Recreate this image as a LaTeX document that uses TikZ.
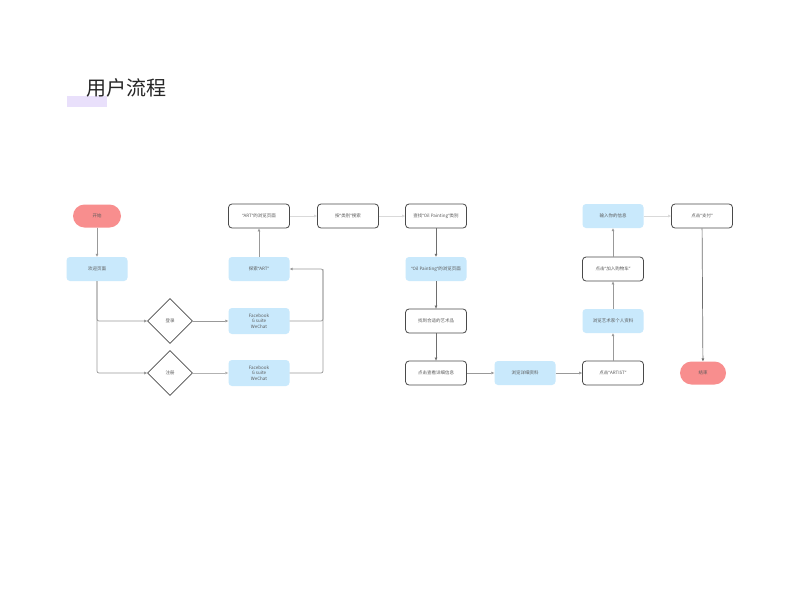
\documentclass[tikz,border=0pt]{standalone}
\usepackage{fontspec}
\newfontfamily\cjk{Noto Sans CJK SC}
\newfontfamily\lat{Noto Sans}
\newcommand{\myLq}{{\lat “}}
\newcommand{\myRq}{{\lat ”}}
\usetikzlibrary{shapes.geometric,arrows.meta,positioning}
\definecolor{boxblue}{HTML}{C9E9FC}
\definecolor{pill}{HTML}{F88E8E}
\definecolor{lav}{HTML}{E9E0FB}
\definecolor{edge}{HTML}{4A4A4A}
\definecolor{txt}{HTML}{5A5A5A}
\tikzset{
  base/.style={minimum width=61pt, minimum height=24pt, rounded corners=3.5pt, inner sep=1pt,
    font=\cjk\fontsize{4.5}{5.6}\selectfont, text=txt, align=center},
  wbox/.style={base, draw=edge, line width=0.8pt, fill=white},
  bbox/.style={base, fill=boxblue},
  pillbox/.style={base, minimum width=48pt, minimum height=23pt, rounded corners=11.5pt, fill=pill},
  dia/.style={diamond, draw=edge, line width=0.7pt, minimum width=45pt, minimum height=45pt, inner sep=0pt,
    font=\cjk\fontsize{4.5}{5.6}\selectfont, text=txt},
  arr/.style={-{Triangle[length=3pt,width=2.6pt]}, line width=0.7pt, rounded corners=2pt},
  dk/.style={arr, draw=edge!80},
  md/.style={arr, draw=black!40},
  lt/.style={arr, draw=black!15}
}
\begin{document}
\begin{tikzpicture}[x=1pt,y=-1pt]
\useasboundingbox (0,0) rectangle (800,600);
\fill[white] (0,0) rectangle (800,600);
% title
\fill[lav] (67,96) rectangle (107,107);
\node[font=\cjk\fontsize{20}{24}\selectfont, text=black!85, anchor=center] (title) at (126,88) {用户流程};
% nodes
\node[pillbox] (start) at (97,216) {开始};
\node[bbox] (welcome) at (97,269) {欢迎页面};
\node[dia] (login) at (170,321) {登录};
\node[dia] (reg) at (170,373) {注册};
\node[bbox, minimum height=26pt] (fb1) at (259,321) {Facebook\\G suite\\WeChat};
\node[bbox, minimum height=26pt] (fb2) at (259,373) {Facebook\\G suite\\WeChat};
\node[bbox] (explore) at (259,269) {探索\myLq ART\myRq};
\node[wbox] (artbrowse) at (259,216) {\myLq ART\myRq 的浏览页面};
\node[wbox] (cat) at (348,216) {按\myLq 类别\myRq 搜索};
\node[wbox] (findoil) at (436,216) {查找\myLq Oil Painting\myRq 类别};
\node[bbox] (oilbrowse) at (436,269) {\myLq Oil Painting\myRq 的浏览页面};
\node[wbox] (findart) at (436,321) {找到合适的艺术品};
\node[wbox] (details) at (436,373) {点击查看详细信息};
\node[bbox] (browsed) at (525,373) {浏览详细资料};
\node[wbox] (artist) at (613,373) {点击\myLq ARTIST\myRq};
\node[bbox] (profile) at (613,321) {浏览艺术家个人资料};
\node[wbox] (cart) at (613,269) {点击\myLq 加入购物车\myRq};
\node[bbox] (info) at (613,216) {输入你的信息};
\node[wbox] (pay) at (702,216) {点击\myLq 支付\myRq};
\node[pillbox, minimum width=46pt] (end) at (703,373) {结束};
\coordinate (j) at (323,269);
% connectors
\draw[md] (start) -- (welcome);
\draw[md] (welcome.south) |- (login.west);
\draw[md] (welcome.south) |- (reg.west);
\draw[md] (login) -- (fb1);
\draw[lt, draw=black!30] (reg) -- (fb2);
\draw[md, -] (fb1.east) -| (j);
\draw[md] (fb2.east) -| (j) -- (explore.east);
\draw[md] (explore) -- (artbrowse);
\draw[lt] (artbrowse) -- (cat);
\draw[lt] (cat) -- (findoil);
\draw[dk] (findoil) -- (oilbrowse);
\draw[dk] (oilbrowse) -- (findart);
\draw[dk] (findart) -- (details);
\draw[md] (details) -- (browsed);
\draw[md] (browsed) -- (artist);
\draw[md] (artist) -- (profile);
\draw[md] (profile) -- (cart);
\draw[md] (cart) -- (info);
\draw[lt] (info) -- (pay);
\draw[dk] (pay) -- (end);
\end{tikzpicture}
\end{document}
